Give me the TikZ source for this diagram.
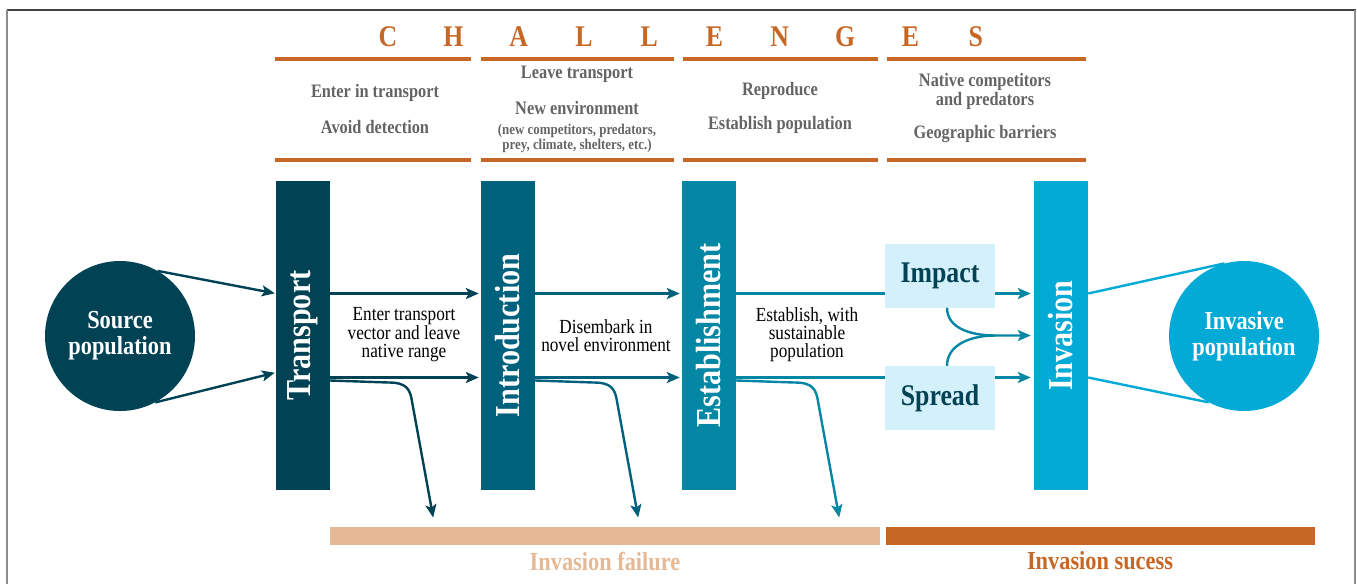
\documentclass[tikz,border=0pt]{standalone}
\usepackage{fontspec}
\setmainfont{Liberation Serif}[FakeStretch=0.86]
\usepackage{graphicx}
\usetikzlibrary{arrows.meta,calc}

\definecolor{transColor}{RGB}{1,66,84}
\definecolor{introColor}{RGB}{0,97,124}
\definecolor{estabColor}{RGB}{4,134,165}
\definecolor{invaColor}{RGB}{4,170,214}
\definecolor{boxBlue}{RGB}{212,240,250}
\definecolor{chalOrange}{RGB}{198,103,38}
\definecolor{failOrange}{RGB}{229,185,149}
\definecolor{chalGray}{RGB}{100,100,100}
\newcommand{\fsz}[1]{\fontsize{#1}{#1}\selectfont}

\begin{document}
\begin{tikzpicture}[x=1pt, y=-1pt,
        stage/.style={rectangle, inner sep=0pt, minimum width=54pt, minimum height=309pt, text=white, font=\bfseries\fsz{35}},
        pop/.style={circle, inner sep=0pt, minimum size=150pt, text=white, align=center, font=\bfseries\fsz{26}},
        effect/.style={rectangle, inner sep=0pt, fill=boxBlue, minimum width=110pt, minimum height=64pt, text=transColor, font=\bfseries\fsz{30}},
        chal/.style={align=center, inner sep=0pt, text=chalGray, font=\bfseries\fsz{19}},
        note/.style={align=center, inner sep=0pt, font=\fontsize{20}{18}\selectfont},
        flow/.style={line width=2.4pt, -{Stealth[length=13pt, width=11pt, inset=3pt]}}
    ]

    \useasboundingbox (0,0) rectangle (1357,584);

    % frame
    \draw[line width=1.5pt, black!75] (7,10) -- (1356,10);
    \draw[line width=2pt, black!45] (7,10) -- (7,584) (1355,10) -- (1355,584);

    % challenges header
    \foreach \l [count=\i from 0] in {C,H,A,L,L,E,N,G,E,S}
        \node[text=chalOrange, font=\bfseries\fsz{30}] (letter\i) at (388+65.3*\i, 37) {\l};
    \foreach \a/\b in {275/471, 481/674, 683/878, 887/1086} {
        \draw[line width=3.5pt, chalOrange] (\a,59) -- (\b,59);
        \draw[line width=3.5pt, chalOrange] (\a,160) -- (\b,160);
    }

    \node[chal] (ch1a) at (375,93) {Enter in transport};
    \node[chal] (ch1b) at (375,127) {Avoid detection};
    \node[chal] (ch2a) at (577,74) {Leave transport};
    \node[chal] (ch2b) at (577,108) {New environment};
    \node[chal, font=\bfseries\fsz{15}, text depth=0pt] (ch2c) at (577,137) {(new competitors, predators,\\[0pt]prey, climate, shelters, etc.)};
    \node[chal] (ch3a) at (780,91) {Reproduce};
    \node[chal] (ch3b) at (780,125) {Establish population};
    \node[chal] (ch4a) at (985,91) {Native competitors\\and predators};
    \node[chal] (ch4b) at (985,134) {Geographic barriers};

    % stages
    \node[pop, fill=transColor] (src) at (120,336) {Source\\population};
    \node[stage, fill=transColor] (trans) at (303,335.5) {\rotatebox{90}{Transport}};
    \node[stage, fill=introColor] (intro) at (508,335.5) {\rotatebox{90}{Introduction}};
    \node[stage, fill=estabColor] (estab) at (709,335.5) {\rotatebox{90}{Establishment}};
    \node[effect] (imp) at (940,275.5) {Impact};
    \node[effect] (spr) at (940,398) {Spread};
    \node[stage, fill=invaColor] (inva) at (1061,335.5) {\rotatebox{90}{Invasion}};
    \node[pop, fill=invaColor] (dest) at (1244,336) {Invasive\\population};

    \node[note] (lab1) at (404,335) {Enter transport\\vector and leave\\native range};
    \node[note] (lab2) at (606,336) {Disembark in\\novel environment};
    \node[note] (lab3) at (807,335) {Establish, with\\sustainable\\population};

    % connectors
    \draw[flow, transColor, shorten >=1pt] (src.60) -- ([yshift=42pt]trans.west);
    \draw[flow, transColor, shorten >=1pt] (src.-62) -- ([yshift=-37pt]trans.west);
    \draw[flow, transColor, shorten >=2pt] ([yshift=42pt]trans.east) -- ([yshift=42pt]intro.west);
    \draw[flow, transColor, shorten >=2pt] ([yshift=-42pt]trans.east) -- ([yshift=-42pt]intro.west);
    \draw[flow, introColor, shorten >=2pt] ([yshift=42pt]intro.east) -- ([yshift=42pt]estab.west);
    \draw[flow, introColor, shorten >=2pt] ([yshift=-42pt]intro.east) -- ([yshift=-42pt]estab.west);
    \draw[line width=2.4pt, estabColor] ([yshift=42pt]estab.east) -- ([yshift=42pt]estab.east -| imp.west);
    \draw[line width=2.4pt, estabColor] ([yshift=-42pt]estab.east) -- ([yshift=-42pt]estab.east -| spr.west);
    \draw[flow, estabColor, shorten >=3pt] ([yshift=42pt]estab.east -| imp.east) -- ([yshift=42pt]inva.west);
    \draw[flow, estabColor, shorten >=3pt] ([yshift=-42pt]estab.east -| spr.east) -- ([yshift=-42pt]inva.west);

    \coordinate (mrg) at (imp.east |- inva.west);
    \draw[flow, estabColor, shorten >=3pt] ([xshift=7pt]imp.south) to[out=-90, in=180] (mrg) -- (inva.west);
    \draw[line width=2.4pt, estabColor] ([xshift=7pt]spr.north) to[out=90, in=180] (mrg);

    \draw[line width=2.4pt, invaColor] ([yshift=42pt]inva.east) -- (dest.105);
    \draw[line width=2.4pt, invaColor] ([yshift=-42pt]inva.east) -- (dest.-118);

    \foreach \s/\c in {trans/transColor, intro/introColor, estab/estabColor}
        \draw[flow, \c] ([yshift=-45pt]\s.east) -- ++(58,2) .. controls +(18,0) and +(-2,-14) .. ++(24,20) -- ++(21,115);

    % outcome
    \node[rectangle, fill=failOrange, minimum width=550pt, minimum height=18pt, inner sep=0pt] (fail) at (605,536) {};
    \node[rectangle, fill=chalOrange, minimum width=429pt, minimum height=18pt, inner sep=0pt] (succ) at (1100.5,536) {};
    \node[text=failOrange, font=\bfseries\fsz{26}] (failtxt) at (605,561) {Invasion failure};
    \node[text=chalOrange, font=\bfseries\fsz{26}] (succtxt) at (1100,561) {Invasion sucess};

\end{tikzpicture}
\end{document}
